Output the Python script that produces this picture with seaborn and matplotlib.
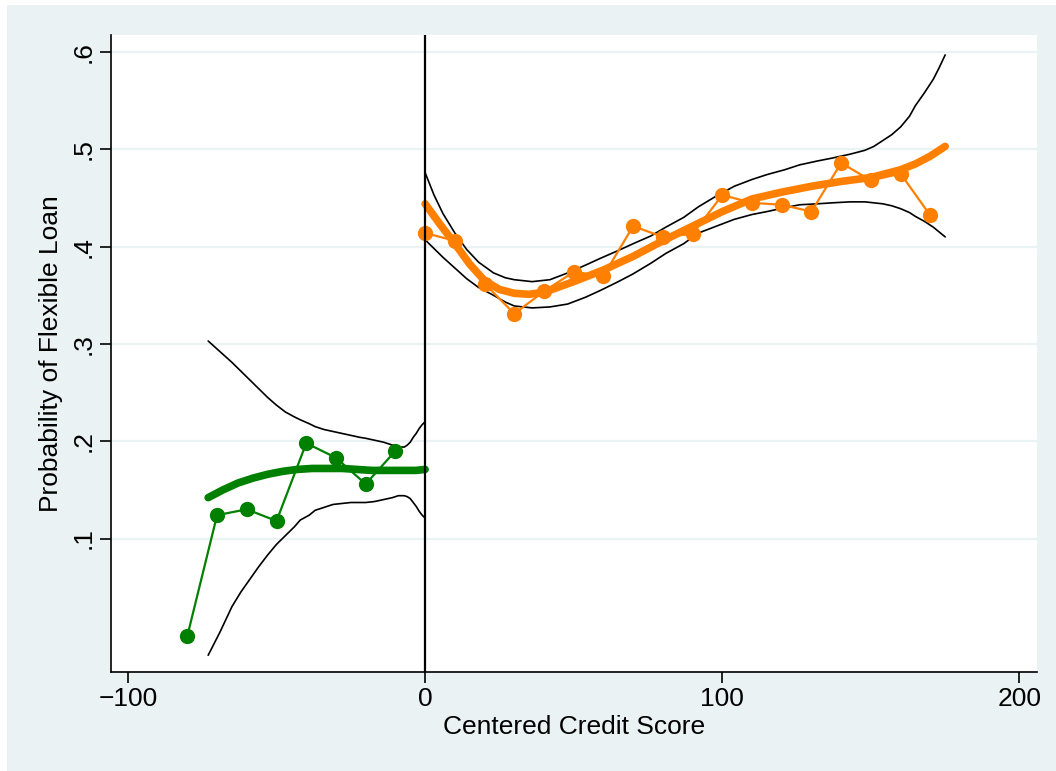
import numpy as np
import pandas as pd
import matplotlib
matplotlib.use("Agg")
import matplotlib.pyplot as plt
import seaborn as sns
from matplotlib.patches import Rectangle

# ---- data ----
left_x = [-80, -70, -60, -50, -40, -30, -20, -10]
left_y = [0.000, 0.124, 0.130, 0.118, 0.198, 0.183, 0.156, 0.190]

right_x = [0, 10, 20, 30, 40, 50, 60, 70, 80, 90, 100, 110, 120, 130, 140, 150, 160, 170]
right_y = [0.414, 0.406, 0.362, 0.331, 0.354, 0.374, 0.370, 0.421, 0.410, 0.413,
           0.453, 0.445, 0.443, 0.436, 0.486, 0.468, 0.475, 0.432]

# fitted polynomial (left)
lfit_x = [-73, -68, -63, -58, -53, -48, -43, -38, -33, -28, -23, -18, -13, -8, -3, 0]
lfit_y = [0.142, 0.150, 0.157, 0.162, 0.166, 0.169, 0.171, 0.172, 0.172, 0.172, 0.171, 0.170, 0.170, 0.170, 0.170, 0.171]
# confidence band (left)
lci_x = [-73, -69, -65, -62, -59, -56, -53, -50, -47, -44, -42, -39, -37, -34, -31, -28, -25, -22, -20,
         -17, -14, -11, -9, -7, -6, -5, -4, -3, -2, -1, 0]
lci_hi = [0.303, 0.292, 0.281, 0.272, 0.263, 0.254, 0.245, 0.237, 0.230, 0.225, 0.222, 0.218, 0.215, 0.212,
          0.210, 0.208, 0.206, 0.204, 0.203, 0.201, 0.199, 0.196, 0.194, 0.194, 0.196, 0.199, 0.204, 0.208,
          0.213, 0.217, 0.220]
lci_lo = [-0.020, 0.004, 0.030, 0.045, 0.058, 0.071, 0.083, 0.094, 0.103, 0.112, 0.119, 0.124, 0.129, 0.132,
          0.135, 0.136, 0.137, 0.137, 0.137, 0.138, 0.140, 0.142, 0.144, 0.144, 0.143, 0.141, 0.137, 0.133,
          0.128, 0.124, 0.121]

# fitted polynomial (right)
rfit_x = [0, 5, 10, 15, 20, 25, 30, 35, 40, 50, 60, 70, 80, 90, 100, 110, 120, 130, 140, 150, 160, 165, 170, 175]
rfit_y = [0.444, 0.423, 0.403, 0.382, 0.365, 0.356, 0.352, 0.351, 0.353, 0.364, 0.376, 0.390, 0.406, 0.421,
          0.436, 0.449, 0.456, 0.462, 0.467, 0.471, 0.479, 0.485, 0.493, 0.503]
# confidence band (right)
rci_x = [0, 3, 6, 10, 14, 18, 23, 27, 30, 36, 42, 48, 54, 59, 65, 70, 76, 81, 87, 92, 98, 104, 110, 115, 121,
         126, 132, 137, 143, 148, 151, 154, 157, 160, 163, 165, 168, 171, 173, 175]
rci_hi = [0.476, 0.453, 0.434, 0.414, 0.397, 0.384, 0.373, 0.368, 0.366, 0.364, 0.366, 0.373, 0.381, 0.388,
          0.396, 0.403, 0.411, 0.420, 0.430, 0.441, 0.452, 0.462, 0.469, 0.474, 0.479, 0.484, 0.488, 0.491,
          0.495, 0.499, 0.503, 0.509, 0.515, 0.523, 0.534, 0.545, 0.558, 0.572, 0.584, 0.597]
rci_lo = [0.407, 0.398, 0.389, 0.378, 0.367, 0.358, 0.350, 0.343, 0.339, 0.337, 0.338, 0.341, 0.348, 0.355,
          0.364, 0.372, 0.383, 0.393, 0.403, 0.414, 0.421, 0.428, 0.433, 0.436, 0.440, 0.443, 0.444, 0.445,
          0.446, 0.446, 0.445, 0.444, 0.442, 0.439, 0.435, 0.431, 0.426, 0.420, 0.415, 0.410]

yticks = [0.1, 0.2, 0.3, 0.4, 0.5, 0.6]
ytick_labels = [".1", ".2", ".3", ".4", ".5", ".6"]
xticks = [-100, 0, 100, 200]
xtick_labels = ["\u2212100", "0", "100", "200"]

GREEN = "#008000"
ORANGE = "#FF8000"
BG = "#EAF2F3"

sns.set_style("white")
plt.rcParams['font.family'] = ['Liberation Sans', 'DejaVu Sans']

fig = plt.figure(figsize=(10.56, 7.71), dpi=100)
fig.patch.set_facecolor("white")
fig.patches.append(Rectangle((7 / 1056, 0), 1 - 7 / 1056, 1 - 5 / 771, transform=fig.transFigure,
                             facecolor=BG, edgecolor="none", zorder=-10))
ax = fig.add_axes([111 / 1056, 1 - 671.7 / 771, (1037 - 111) / 1056, (671.7 - 35) / 771])
ax.set_facecolor("white")

for y in yticks:
    ax.axhline(y, color=BG, lw=1.6, zorder=0)

# confidence bands
for xs, ys in [(lci_x, lci_hi), (lci_x, lci_lo), (rci_x, rci_hi), (rci_x, rci_lo)]:
    sns.lineplot(x=xs, y=ys, ax=ax, color="black", lw=1.2, sort=False, zorder=2)

# fitted lines
sns.lineplot(x=lfit_x, y=lfit_y, ax=ax, color=GREEN, lw=5.5, sort=False, zorder=3, solid_capstyle="round")
sns.lineplot(x=rfit_x, y=rfit_y, ax=ax, color=ORANGE, lw=5.5, sort=False, zorder=3, solid_capstyle="round")

# binned means
sns.lineplot(x=left_x, y=left_y, ax=ax, color=GREEN, lw=1.6, marker="o", markersize=11,
             markeredgewidth=0, sort=False, zorder=4)
sns.lineplot(x=right_x, y=right_y, ax=ax, color=ORANGE, lw=1.6, marker="o", markersize=11,
             markeredgewidth=0, sort=False, zorder=4)

ax.axvline(0, color="black", lw=1.6, zorder=5)

ax.set_xlim(-105.7, 205.9)
ax.set_ylim(-0.0369, 0.6175)
ax.set_xticks(xticks)
ax.set_xticklabels(xtick_labels)
ax.set_yticks(yticks)
ax.set_yticklabels(ytick_labels, rotation=90, va="center")
ax.tick_params(axis="both", direction="out", length=8, width=1.2, color="black",
               labelsize=19, labelcolor="black", pad=3)
ax.tick_params(axis="x", bottom=True)
ax.tick_params(axis="y", left=True)
for s in ["top", "right"]:
    ax.spines[s].set_visible(False)
for s in ["left", "bottom"]:
    ax.spines[s].set_visible(True)
    ax.spines[s].set_color("black")
    ax.spines[s].set_linewidth(1.2)

ax.set_xlabel("Centered Credit Score", fontsize=19, color="black", labelpad=3)
ax.set_ylabel("Probability of Flexible Loan", fontsize=19, color="black", labelpad=6)

fig.savefig("out.png", dpi=100, facecolor=fig.get_facecolor())
